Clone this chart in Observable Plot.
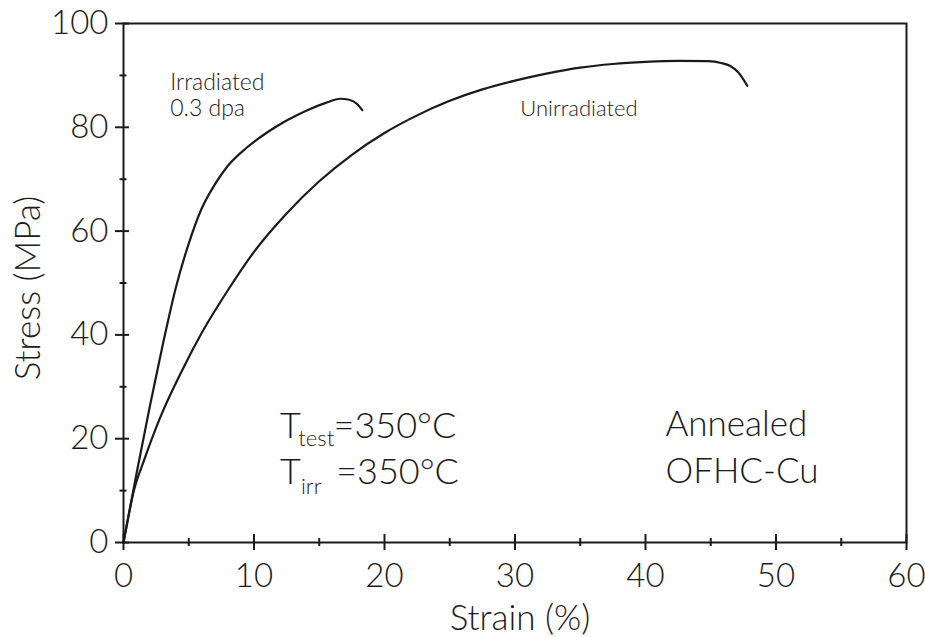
<!DOCTYPE html>
<html>
<head>
<meta charset="utf-8">
<script src="https://cdn.jsdelivr.net/npm/d3@7"></script>
<script src="https://cdn.jsdelivr.net/npm/@observablehq/plot@0.6"></script>
<style>
  html, body { margin: 0; padding: 0; background: #fff; }
  #chart svg { display: block; font-family: Lato, "DejaVu Sans", sans-serif; font-weight: 300; }
</style>
</head>
<body>
<div id="chart"></div>
<script>
// Engineering stress–strain curves, annealed OFHC copper, tested at 350 °C
const irradiatedStrain = [0, 1, 2, 3, 4, 5, 6, 7, 8, 9.5, 11, 12.5, 14, 15.5, 16.6, 17.3, 17.9, 18.3];
const irradiatedStress = [0, 13.3, 26, 38, 49, 57.6, 64.4, 69.0, 72.6, 76.2, 79.0, 81.3, 83.2, 84.7, 85.5, 85.3, 84.5, 83.3];

const unirradiatedStrain = [0, 0.8, 1.6, 2.8, 4.5, 6, 8, 10, 12.5, 15, 17.5, 20, 22.5, 25, 27.5, 30, 32.5, 35, 37.5, 40, 42.5, 44.8, 45.8, 46.5, 47.1, 47.8];
const unirradiatedStress = [0, 10, 16, 24, 33.2, 40.4, 48.6, 56.0, 63.4, 69.6, 74.7, 78.9, 82.3, 85.1, 87.3, 89.0, 90.4, 91.5, 92.2, 92.6, 92.8, 92.75, 92.4, 91.8, 90.6, 88];

const xMajorTicks = [0, 10, 20, 30, 40, 50, 60];
const xMinorTicks = [5, 15, 25, 35, 45, 55];
const yMajorTicks = [0, 20, 40, 60, 80, 100];
const yMinorTicks = [10, 30, 50, 70, 90];

const toPoints = (xs, ys) => xs.map((x, i) => ({strain: x, stress: ys[i]}));
const irradiated = toPoints(irradiatedStrain, irradiatedStress);
const unirradiated = toPoints(unirradiatedStrain, unirradiatedStress);

const ink = "#1a1a1a";
const tickFont = 33;

const chart = Plot.plot({
  width: 925,
  height: 637,
  marginLeft: 123,
  marginRight: 19,
  marginTop: 23,
  marginBottom: 95,
  style: {background: "#fff", color: ink, overflow: "visible"},
  x: {domain: [0, 60]},
  y: {domain: [0, 100]},
  marks: [
    Plot.frame({stroke: ink, strokeWidth: 2}),

    // tick marks crossing the axis lines
    Plot.axisX(xMajorTicks, {tickSize: 16, dy: -8, text: null, label: null, stroke: ink, strokeWidth: 2}),
    Plot.axisX(xMinorTicks, {tickSize: 8, dy: -4, text: null, label: null, stroke: ink, strokeWidth: 2}),
    Plot.axisY(yMajorTicks, {tickSize: 14, dx: 6, text: null, label: null, stroke: ink, strokeWidth: 2}),
    Plot.axisY(yMinorTicks, {tickSize: 7, dx: 3.5, text: null, label: null, stroke: ink, strokeWidth: 2}),

    // tick labels
    Plot.axisX(xMajorTicks, {tickSize: 0, tickPadding: 21, fontSize: tickFont, fill: ink, label: null}),
    Plot.axisY(yMajorTicks, {tickSize: 0, tickPadding: 15, fontSize: tickFont, fill: ink, label: null}),

    // axis titles
    Plot.text(["Strain (%)"], {frameAnchor: "bottom", textAnchor: "middle", dx: 5, dy: 87, lineAnchor: "bottom", fontSize: 35, fill: ink}),
    Plot.text(["Stress (MPa)"], {frameAnchor: "left", textAnchor: "middle", lineAnchor: "middle", rotate: -90, dx: -95, dy: 5, fontSize: 35, fill: ink}),

    // curves
    Plot.line(irradiated, {x: "strain", y: "stress", curve: "monotone-x", stroke: ink, strokeWidth: 2.2}),
    Plot.line(unirradiated, {x: "strain", y: "stress", curve: "monotone-x", stroke: ink, strokeWidth: 2.2}),

    // curve labels
    Plot.text(["Irradiated"], {x: 3.58, y: 87.2, textAnchor: "start", lineAnchor: "bottom", fontSize: 23, fill: ink}),
    Plot.text(["0.3 dpa"], {x: 3.58, y: 82.2, textAnchor: "start", lineAnchor: "bottom", fontSize: 23, fill: ink}),
    Plot.text(["Unirradiated"], {x: 30.4, y: 82.2, textAnchor: "start", lineAnchor: "bottom", fontSize: 22, fill: ink}),

    // test conditions
    Plot.text(["T"], {x: 12.0, y: 20.17, textAnchor: "start", lineAnchor: "bottom", fontSize: 36, fill: ink}),
    Plot.text(["test"], {x: 13.4, y: 18.63, textAnchor: "start", lineAnchor: "bottom", fontSize: 22, fill: ink}),
    Plot.text(["=350°C"], {x: 16.1, y: 20.17, textAnchor: "start", lineAnchor: "bottom", fontSize: 36, fill: ink}),
    Plot.text(["T"], {x: 12.0, y: 11.31, textAnchor: "start", lineAnchor: "bottom", fontSize: 36, fill: ink}),
    Plot.text(["irr"], {x: 13.6, y: 9.38, textAnchor: "start", lineAnchor: "bottom", fontSize: 22, fill: ink}),
    Plot.text(["=350°C"], {x: 16.3, y: 11.31, textAnchor: "start", lineAnchor: "bottom", fontSize: 36, fill: ink}),

    // material
    Plot.text(["Annealed"], {x: 41.53, y: 20.56, textAnchor: "start", lineAnchor: "bottom", fontSize: 35, fill: ink}),
    Plot.text(["OFHC-Cu"], {x: 41.53, y: 11.5, textAnchor: "start", lineAnchor: "bottom", fontSize: 35, fill: ink})
  ]
});

document.getElementById("chart").append(chart);
</script>
</body>
</html>
